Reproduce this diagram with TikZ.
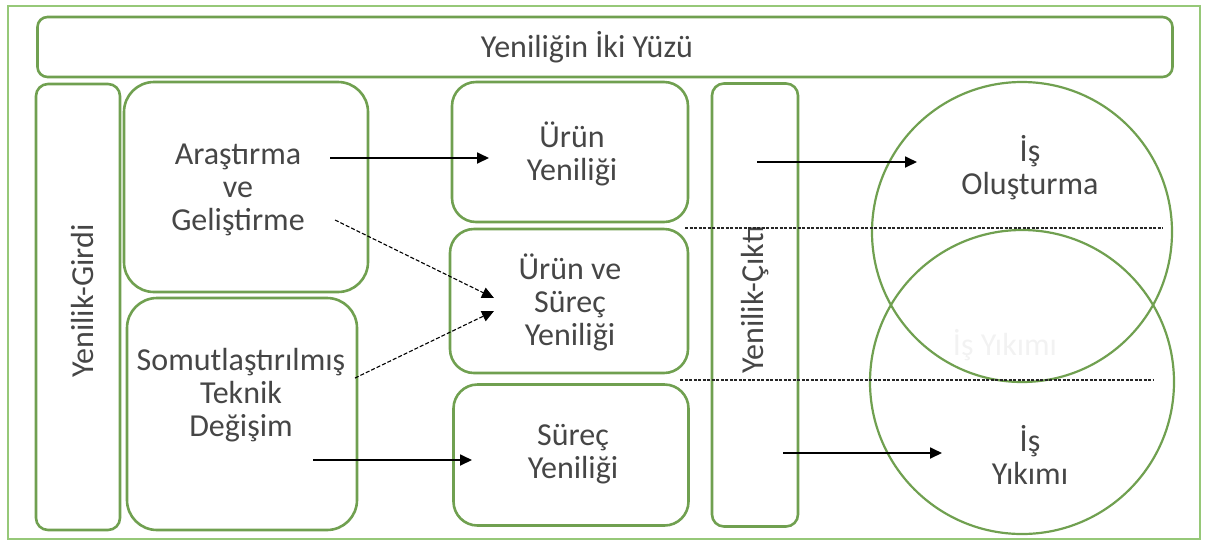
\documentclass[tikz,border=0pt]{standalone}
\usepackage{fontspec}
\setmainfont{Carlito}
\usepackage{tikz}
\usetikzlibrary{arrows.meta,calc,positioning}
\definecolor{boxgreen}{RGB}{112,160,80}
\definecolor{framegreen}{RGB}{150,200,120}
\definecolor{labelgray}{RGB}{70,70,70}

\begin{document}
\begin{tikzpicture}[
  x=1pt,y=-1pt,
  >={Triangle[length=12pt,width=11pt]},
  box/.style={draw=boxgreen,line width=2.6pt,rounded corners=#1,inner sep=0pt},
  box/.default=12pt,
  lbl/.style={text=labelgray,font=\fontsize{32}{33}\selectfont,align=center},
  flow/.style={draw=black,line width=1.8pt,->},
  link/.style={draw=black,line width=1.1pt,dash pattern=on 4pt off 2pt,->},
  cut/.style={draw=black!85,line width=1.4pt,dash pattern=on 3pt off 1.5pt}
]
  \useasboundingbox (0,0) rectangle (1205,542);
  % outer frame
  \draw[framegreen,line width=2pt] (8,6) rectangle (1200,539);

  % title
  \node[box=10pt,minimum width=1135pt,minimum height=60pt] (title) at (605,47) {};
  \node[lbl] (titletxt) at (587,47) {Yeniliğin İki Yüzü};

  % input column
  \node[box,minimum width=84pt,minimum height=446pt] (girdi) at (78,307) {};
  \node[lbl,rotate=90] (girditxt) at (82,301) {Yenilik-Girdi};

  \node[box=30pt,minimum width=244pt,minimum height=210pt] (arge) at (246,187) {};
  \node[lbl] (argetxt) at (238,190) {Araştırma\\ve\\Geliştirme};

  \node[box=30pt,minimum width=230pt,minimum height=232pt] (somut) at (242,414) {};
  \node[lbl] (somuttxt) at (241,395) {Somutlaştırılmış\\Teknik\\Değişim};

  % innovation types
  \node[box=24pt,minimum width=236pt,minimum height=140pt] (urun) at (570,152) {};
  \node[lbl] (uruntxt) at (572,154) {Ürün\\Yeniliği};

  \node[box=24pt,minimum width=238pt,minimum height=144pt] (urunsurec) at (569,301) {};
  \node[lbl] (urunsurectxt) at (570,302) {Ürün ve\\Süreç\\Yeniliği};

  \node[box=24pt,minimum width=235pt,minimum height=141pt] (surec) at (571,455) {};
  \node[lbl] (surectxt) at (573,454) {Süreç\\Yeniliği};

  % output column
  \node[box,minimum width=86pt,minimum height=443pt] (cikti) at (755,305) {};
  \node[lbl,rotate=90] (ciktitxt) at (755,300) {Yenilik-Çıktı};

  % outcomes
  \node[lbl,text=black!5] (ghost) at (1005,345) {İş Yıkımı};
  \node[circle,draw=boxgreen,line width=2.2pt,minimum size=300pt] (olus) at (1022,232) {};
  \node[circle,draw=boxgreen,line width=2.2pt,minimum size=304pt] (yikim) at (1022,382) {};
  \node[lbl] (olustxt) at (1030,168) {İş\\Oluşturma};
  \node[lbl] (yikimtxt) at (1030,455) {İş\\Yıkımı};

  % separators
  \coordinate (s1a) at (685,228);
  \coordinate (s1b) at (1163,228);
  \coordinate (s2a) at (680,380);
  \coordinate (s2b) at (1153,380);
  \draw[cut] (s1a) -- (s1b);
  \draw[cut] (s2a) -- (s2b);

  % arrows
  \coordinate (a1) at (330,158);
  \coordinate (b1) at (489,158);
  \coordinate (a2) at (313,460);
  \coordinate (b2) at (472,460);
  \coordinate (a3) at (757,162);
  \coordinate (b3) at (917,162);
  \coordinate (a4) at (783,453);
  \coordinate (b4) at (942,453);
  \draw[flow] (a1) -- (b1);
  \draw[flow] (a2) -- (b2);
  \draw[flow] (a3) -- (b3);
  \draw[flow] (a4) -- (b4);

  \coordinate (d1) at (335,220);
  \coordinate (e1) at (494,298);
  \coordinate (d2) at (355,378);
  \coordinate (e2) at (494,311);
  \draw[link] (d1) -- (e1);
  \draw[link] (d2) -- (e2);
\end{tikzpicture}
\end{document}
